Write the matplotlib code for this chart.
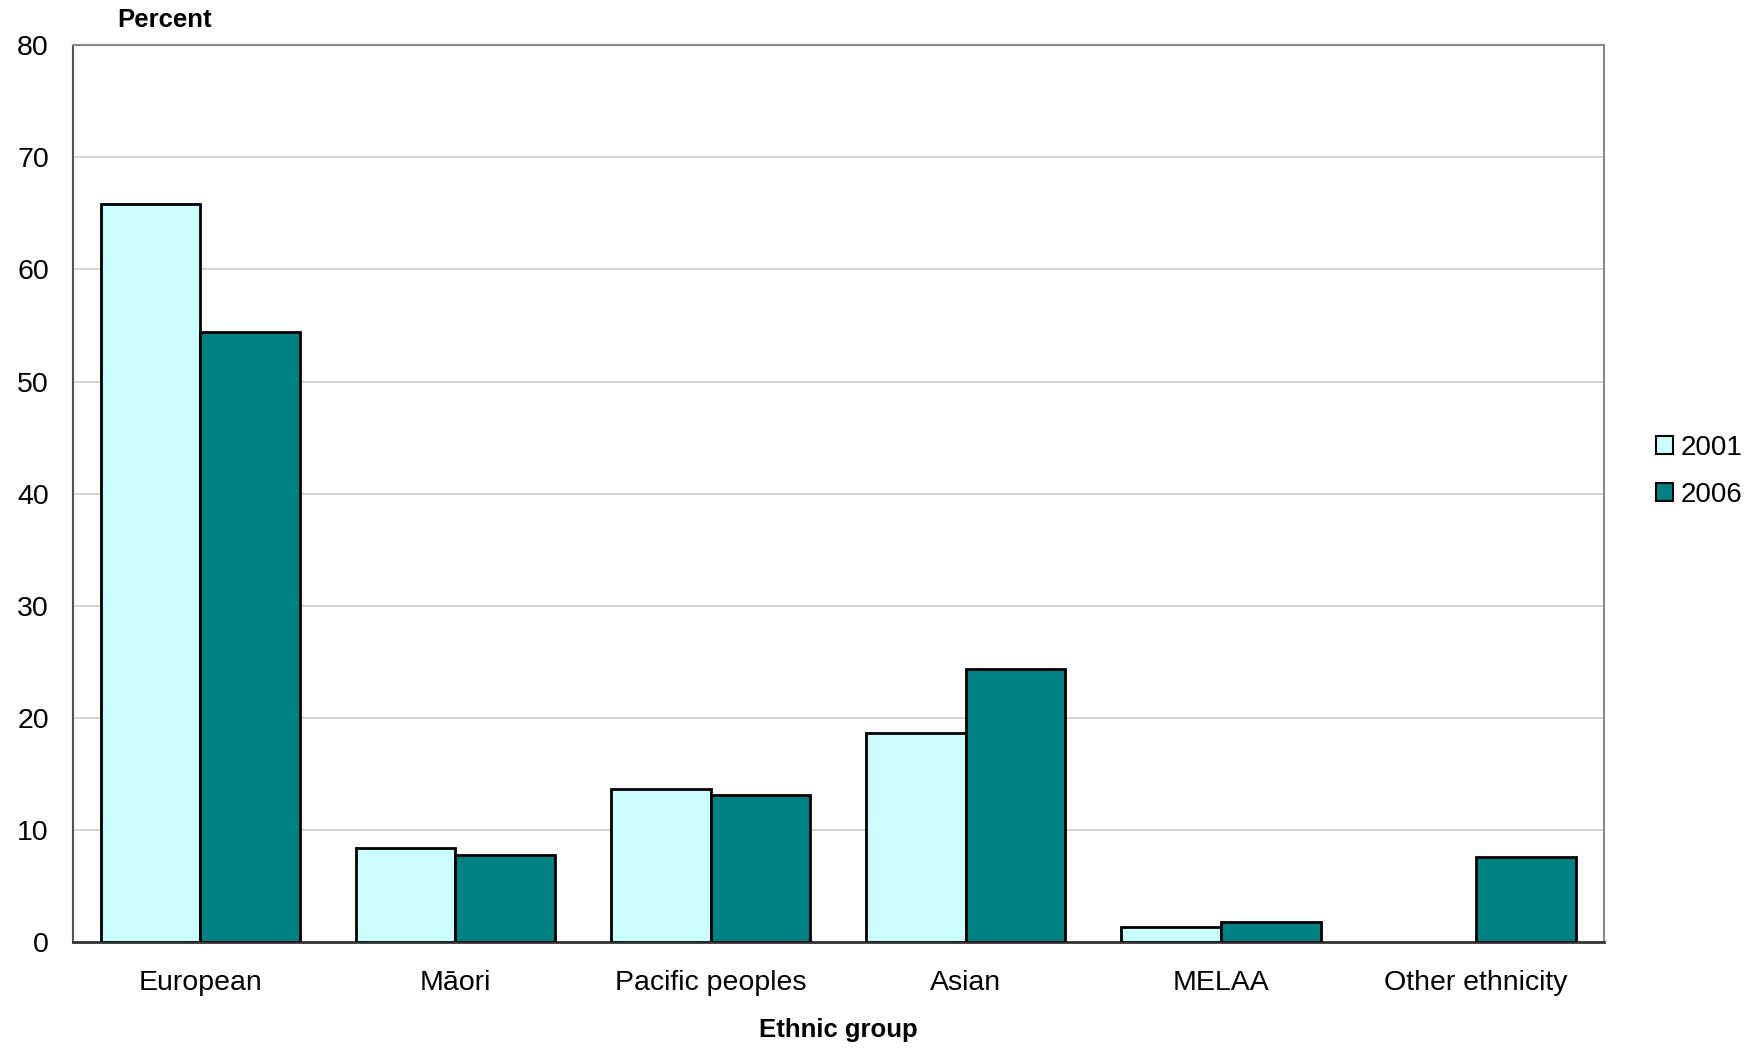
import numpy as np
import matplotlib
matplotlib.use('Agg')
import matplotlib.pyplot as plt

plt.rcParams['font.family'] = ['Liberation Sans', 'DejaVu Sans']

# ── Data
groups = ['European', 'Māori', 'Pacific peoples', 'Asian', 'MELAA', 'Other ethnicity']
pct_2001 = [65.8, 8.4, 13.7, 18.7, 1.4, np.nan]
pct_2006 = [54.4, 7.8, 13.1, 24.4, 1.8, 7.6]
series_labels = ['2001', '2006']

# ── Plot
fig = plt.figure(figsize=(17.49, 10.51), dpi=100)
ax = fig.add_axes([0.0415, 0.1035, 0.8755, 0.8535])

x = np.arange(len(groups))
w = 0.39
ax.bar(x - w/2, pct_2001, w, color='#ccffff', edgecolor='black', linewidth=2,
       label=series_labels[0], zorder=3)
ax.bar(x + w/2, pct_2006, w, color='#008080', edgecolor='black', linewidth=2,
       label=series_labels[1], zorder=3)

ax.set_xlim(-0.5, len(groups) - 0.5)
ax.set_ylim(0, 80)
ax.set_yticks(range(0, 81, 10))
ax.set_xticks(x)
ax.set_xticklabels(groups, fontsize=20.5)
ax.tick_params(axis='y', labelsize=20.5, length=0, pad=17)
ax.tick_params(axis='x', length=0, pad=20)
ax.grid(axis='y', color='#d0d0d0', linewidth=1.3, zorder=0)

for side in ['top', 'right']:
    ax.spines[side].set_color('#888888')
    ax.spines[side].set_linewidth(1.5)
ax.spines['left'].set_color('#555555')
ax.spines['left'].set_linewidth(1.5)
ax.spines['bottom'].set_color('#333333')
ax.spines['bottom'].set_linewidth(2)

fig.text(0.094, 0.981, 'Percent', fontsize=18.5, fontweight='bold',
         ha='center', va='center')
ax.set_xlabel('Ethnic group', fontsize=18.5, fontweight='bold', labelpad=16)

leg = ax.legend(loc='center left', bbox_to_anchor=(1.034, 0.525), frameon=False,
                fontsize=20, handlelength=0.6, handleheight=0.6,
                handletextpad=0.3, labelspacing=0.75,
                borderaxespad=0, borderpad=0)
for h in leg.legend_handles:
    h.set_linewidth(1.5)

plt.savefig('out.png', dpi=100)
plt.close()
